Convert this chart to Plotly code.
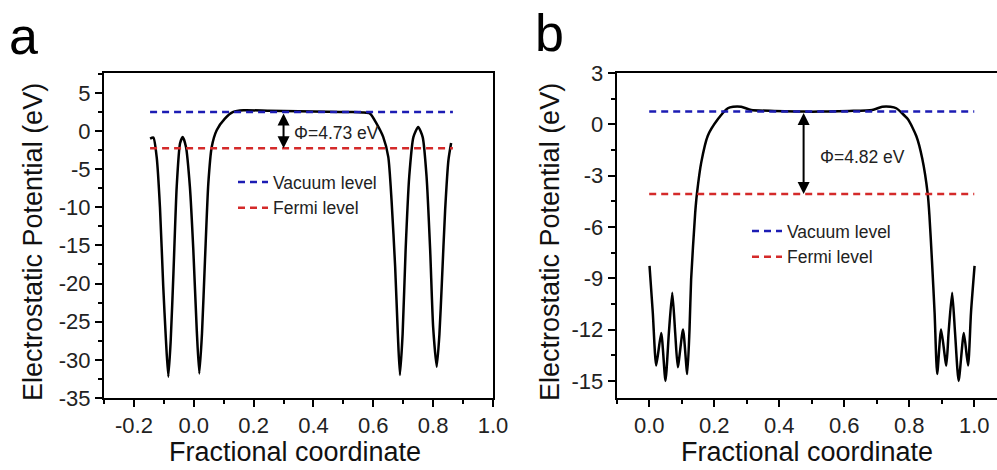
import plotly.graph_objects as go

# ---------------- data ----------------
# Panel a
xa = [-0.146, -0.135, -0.124, -0.113, -0.102, -0.093, -0.085, -0.077, -0.068, -0.057,
      -0.046, -0.037, -0.026, -0.013, -0.0015, 0.010, 0.0185, 0.0275, 0.0375, 0.0486,
      0.060, 0.0766, 0.104, 0.132, 0.166, 0.25, 0.35, 0.45, 0.53, 0.565,
      0.589, 0.611, 0.633, 0.650, 0.661, 0.673, 0.682, 0.689, 0.698, 0.708,
      0.720, 0.734, 0.750, 0.765, 0.778, 0.790, 0.800, 0.812, 0.821, 0.829,
      0.840, 0.851, 0.860]
ya = [-1.0, -0.87, -3.4, -10.0, -20.4, -27.4, -32.2, -27.4, -18.7, -7.3,
      -1.65, -0.78, -2.1, -7.3, -15.6, -26.1, -31.8, -26.5, -16.9, -6.9,
      -2.1, 0.09, 1.62, 2.49, 2.71, 2.65, 2.58, 2.52, 2.48, 2.42,
      2.28, 0.97, -0.78, -3.4, -9.1, -17.8, -26.6, -32.0, -26.6, -15.6,
      -6.0, -0.8, 0.52, -0.8, -6.0, -15.6, -25.7, -30.9, -26.6, -20.0,
      -10.4, -3.84, -1.57]
vac_a_x = [-0.146, 0.866]
vac_a_y = [2.48, 2.48]
fermi_a_x = [-0.146, 0.866]
fermi_a_y = [-2.25, -2.25]
phi_a = 4.73
arrow_a_x = 0.30
xticks_a = [-0.2, 0.0, 0.2, 0.4, 0.6, 0.8, 1.0]
yticks_a = [-35, -30, -25, -20, -15, -10, -5, 0, 5]

# Panel b
xb = [0.001, 0.011, 0.0215, 0.037, 0.050, 0.0605, 0.071, 0.080, 0.088, 0.104,
      0.117, 0.124, 0.129, 0.1415, 0.147, 0.160, 0.180, 0.211, 0.242, 0.258,
      0.283, 0.314, 0.385, 0.45, 0.50, 0.55, 0.615, 0.686, 0.717, 0.742,
      0.760, 0.796, 0.822, 0.840, 0.857, 0.862, 0.870, 0.878, 0.886, 0.898,
      0.914, 0.921, 0.932, 0.941, 0.952, 0.968, 0.981, 0.990, 1.001]
yb = [-8.28, -11.0, -14.1, -12.2, -15.0, -12.2, -9.85, -12.2, -14.2, -12.0,
      -14.6, -12.0, -9.06, -5.16, -4.03, -2.24, -0.68, 0.29, 0.94, 1.03,
      1.03, 0.84, 0.78, 0.75, 0.74, 0.75, 0.78, 0.84, 1.03, 1.03,
      0.94, 0.29, -0.70, -2.0, -4.1, -5.3, -8.0, -11.0, -14.6, -12.0,
      -14.1, -12.2, -9.85, -12.2, -15.0, -12.2, -14.1, -11.0, -8.28]
vac_b_x = [0.0, 1.0]
vac_b_y = [0.75, 0.75]
fermi_b_x = [0.0, 1.0]
fermi_b_y = [-4.07, -4.07]
phi_b = 4.82
arrow_b_x = 0.475
xticks_b = [0.0, 0.2, 0.4, 0.6, 0.8, 1.0]
yticks_b = [-15, -12, -9, -6, -3, 0, 3]

FONT = "Liberation Sans, Arial, sans-serif"
BLUE = "#1c1cb4"
RED = "#d42a2a"
DASH = "7px,5px"

fig = go.Figure()

# panel a
fig.add_trace(go.Scatter(x=xa, y=ya, mode="lines", line=dict(color="black", width=2.5, shape="spline", smoothing=0.6),
                         showlegend=False, xaxis="x", yaxis="y"))
fig.add_trace(go.Scatter(x=vac_a_x, y=vac_a_y, mode="lines", name="Vacuum level",
                         line=dict(color=BLUE, width=2.5, dash=DASH), xaxis="x", yaxis="y", legend="legend"))
fig.add_trace(go.Scatter(x=fermi_a_x, y=fermi_a_y, mode="lines", name="Fermi level",
                         line=dict(color=RED, width=2.5, dash=DASH), xaxis="x", yaxis="y", legend="legend"))
# panel b
fig.add_trace(go.Scatter(x=xb, y=yb, mode="lines", line=dict(color="black", width=2.5, shape="spline", smoothing=0.6),
                         showlegend=False, xaxis="x2", yaxis="y2"))
fig.add_trace(go.Scatter(x=vac_b_x, y=vac_b_y, mode="lines", name="Vacuum level",
                         line=dict(color=BLUE, width=2.5, dash=DASH), xaxis="x2", yaxis="y2", legend="legend2"))
fig.add_trace(go.Scatter(x=fermi_b_x, y=fermi_b_y, mode="lines", name="Fermi level",
                         line=dict(color=RED, width=2.5, dash=DASH), xaxis="x2", yaxis="y2", legend="legend2"))

tickfont = dict(family=FONT, size=22, color="#222")
axcommon = dict(showgrid=False, zeroline=False, showline=True, linecolor="black", linewidth=2,
                ticks="outside", ticklen=7, tickwidth=2, tickcolor="black", tickfont=tickfont)
minor_common = dict(ticks="outside", ticklen=4, tickwidth=2, tickcolor="black")


def fx(v):
    return f"{v:.1f}"


def fy(v):
    return f"{v:d}"


ydom = [1 - 398 / 470, 1 - 73 / 470]
fig.update_layout(
    width=997, height=470, margin=dict(l=0, r=0, t=0, b=0, autoexpand=False),
    paper_bgcolor="white", plot_bgcolor="white",
    font=dict(family=FONT, color="black"),
    xaxis=dict(domain=[104 / 997, 493 / 997], range=[-0.3, 1.0], tickvals=xticks_a,
               ticktext=[fx(v) for v in xticks_a], mirror=True,
               minor=dict(dtick=0.1, tick0=0, **minor_common), anchor="y", **axcommon),
    yaxis=dict(domain=ydom, range=[-35, 7.6], tickvals=yticks_a, ticktext=[fy(v) for v in yticks_a], mirror=True,
               minor=dict(dtick=2.5, tick0=0, **minor_common), anchor="x", **axcommon),
    xaxis2=dict(domain=[616.7 / 997, 1.0], range=[-0.1, 1.07], tickvals=xticks_b,
                ticktext=[fx(v) for v in xticks_b], mirror=True,
                minor=dict(dtick=0.1, tick0=0, **minor_common), anchor="y2", **axcommon),
    yaxis2=dict(domain=ydom, range=[-16, 3], tickvals=yticks_b, ticktext=[fy(v) for v in yticks_b], mirror=False,
                minor=dict(dtick=1.5, tick0=0, **minor_common), anchor="x2", **axcommon),
    legend=dict(x=233 / 997, y=1 - 164 / 470, xanchor="left", yanchor="top", bgcolor="rgba(0,0,0,0)",
                font=dict(family=FONT, size=17.5, color="#222"), tracegroupgap=0),
    legend2=dict(x=747 / 997, y=1 - 213 / 470, xanchor="left", yanchor="top", bgcolor="rgba(0,0,0,0)",
                 font=dict(family=FONT, size=17.5, color="#222"), tracegroupgap=0),
)

ann = []
# double arrows between vacuum and Fermi levels
for xr, yr, xv, yv0, yv1 in [("x", "y", arrow_a_x, vac_a_y[0], fermi_a_y[0]),
                             ("x2", "y2", arrow_b_x, vac_b_y[0], fermi_b_y[0])]:
    ann.append(dict(x=xv, y=yv1, ax=xv, ay=yv0, xref=xr, yref=yr, axref=xr, ayref=yr, text="",
                    showarrow=True, arrowhead=2, startarrowhead=2, arrowside="end+start",
                    arrowsize=1.2, startarrowsize=1.2, arrowwidth=2, arrowcolor="black"))
ann.append(dict(x=0.328, y=-0.3, xref="x", yref="y", text=f"Φ={phi_a} eV", showarrow=False,
                xanchor="left", yanchor="middle", font=dict(family=FONT, size=17.5, color="#222")))
ann.append(dict(x=0.52, y=-1.93, xref="x2", yref="y2", text=f"Φ={phi_b} eV", showarrow=False,
                xanchor="left", yanchor="middle", font=dict(family=FONT, size=17.5, color="#222")))
# axis titles
titlefont = dict(family=FONT, size=27, color="#111")
for x, y, t, ang in [(33, 242, "Electrostatic Potential (eV)", -90),
                     (550, 242, "Electrostatic Potential (eV)", -90),
                     (295, 452, "Fractional coordinate", 0),
                     (807, 452, "Fractional coordinate", 0)]:
    ann.append(dict(x=x / 997, y=1 - y / 470, xref="paper", yref="paper", text=t, textangle=ang,
                    xanchor="center", yanchor="middle", showarrow=False, font=titlefont))
# panel letters
ann.append(dict(x=23 / 997, y=1 - 36 / 470, xref="paper", yref="paper", text="a", showarrow=False,
                xanchor="center", yanchor="middle", font=dict(family=FONT, size=52, color="black")))
ann.append(dict(x=549 / 997, y=1 - 33 / 470, xref="paper", yref="paper", text="b", showarrow=False,
                xanchor="center", yanchor="middle", font=dict(family=FONT, size=52, color="black")))
fig.update_layout(annotations=ann)

fig.write_html("out.html")
